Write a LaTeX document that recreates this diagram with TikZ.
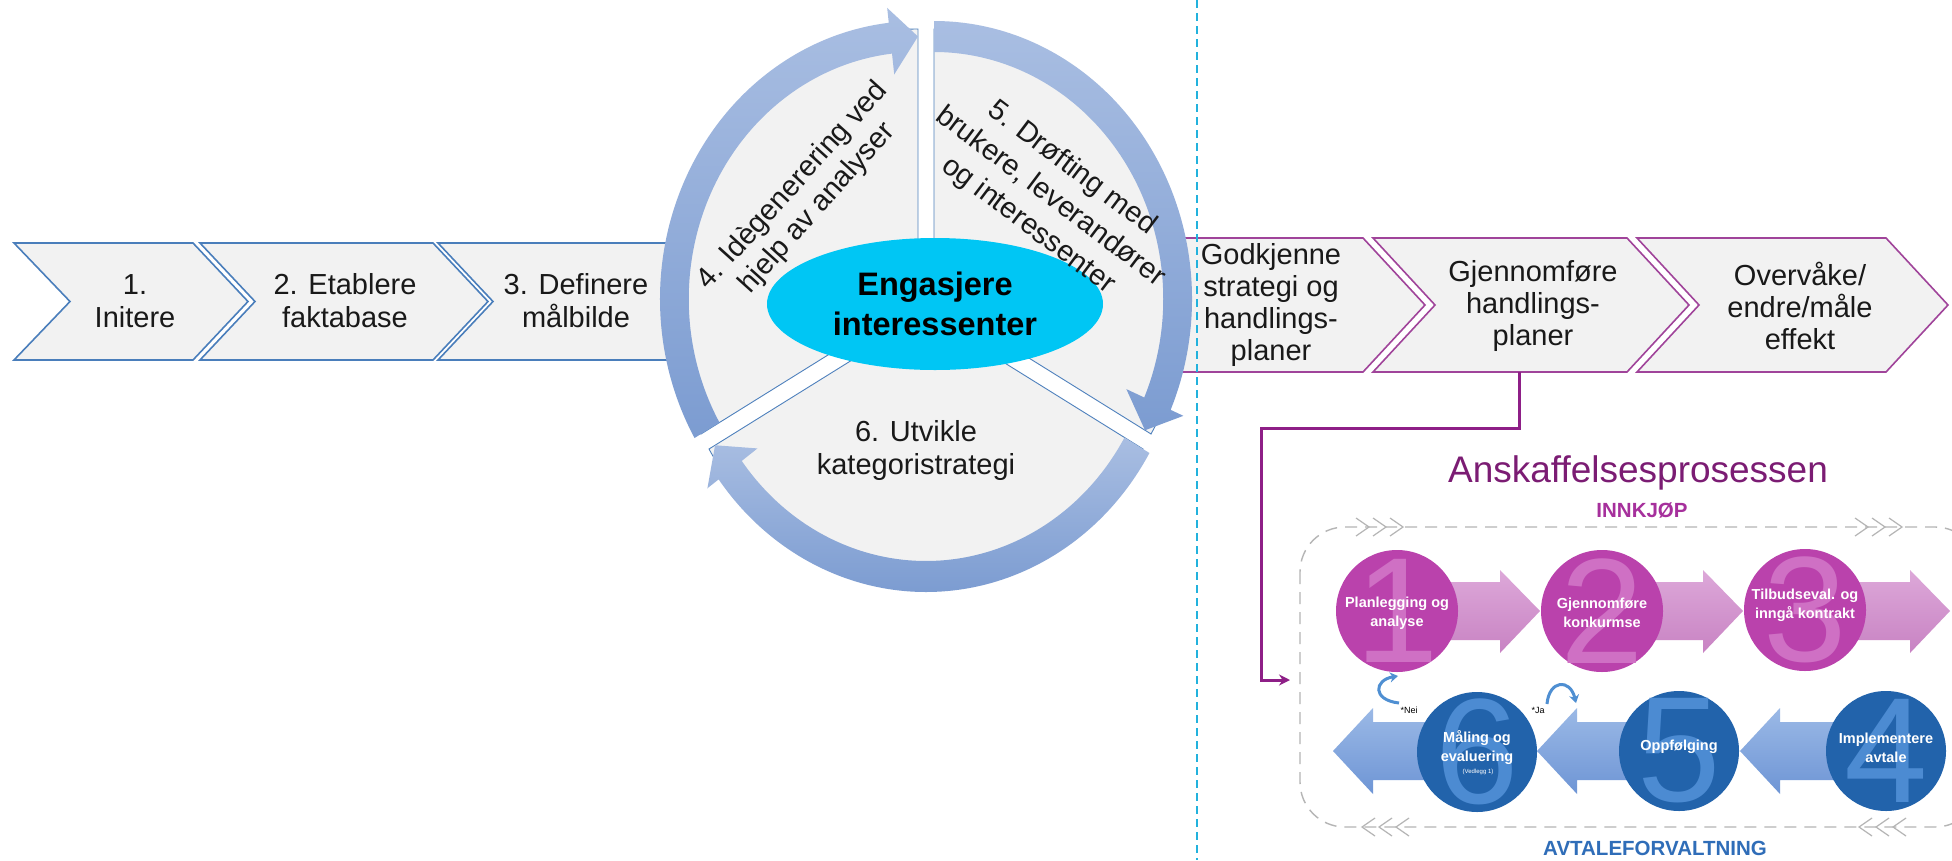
\documentclass[tikz,border=0pt]{standalone}
\usepackage{fontspec}
\setmainfont{Liberation Sans}
\usetikzlibrary{shapes.geometric, arrows.meta}

\definecolor{chevfill}{HTML}{F2F2F2}
\definecolor{chevblue}{HTML}{4A7EBB}
\definecolor{chevpurple}{HTML}{A0449A}
\definecolor{sectorline}{HTML}{4F81BD}
\definecolor{ringtop}{HTML}{A9BEE2}
\definecolor{ringbot}{HTML}{7C9CD1}
\definecolor{hubcyan}{HTML}{00C6F4}
\definecolor{guidecyan}{HTML}{22B2DD}
\definecolor{linkpurple}{HTML}{8E1F87}
\definecolor{titlepurple}{HTML}{7B1C73}
\definecolor{innpurple}{HTML}{A6309C}
\definecolor{avtblue}{HTML}{2F6DB8}
\definecolor{framegray}{HTML}{B5B5B5}
\definecolor{magcircle}{HTML}{BA42AC}
\definecolor{magdigit}{HTML}{CF70C4}
\definecolor{magtop}{HTML}{DDA8D9}
\definecolor{magbot}{HTML}{C883C3}
\definecolor{bluecircle}{HTML}{2263AB}
\definecolor{bluedigit}{HTML}{4C8BD2}
\definecolor{bluetop}{HTML}{9BB9E6}
\definecolor{bluebot}{HTML}{6E95D5}
\definecolor{hookblue}{HTML}{4F8FD2}

\tikzset{
  chevL/.style={draw=chevblue, fill=chevfill, line width=1.6pt, line join=miter},
  chevR/.style={draw=chevpurple, fill=chevfill, line width=1.6pt, line join=miter},
  steptext/.style={align=center, inner sep=0pt, text=black!90, font=\fontsize{29}{33}\selectfont},
  sector/.style={draw=sectorline, fill=chevfill, line width=0.9pt},
  ring/.style={top color=ringtop, bottom color=ringbot},
  hub/.style={ellipse, fill=hubcyan, minimum width=336pt, minimum height=132pt, inner sep=0pt,
    align=center, font=\bfseries\fontsize{32.5}{40}\selectfont},
  guide/.style={draw=guidecyan, line width=1.5pt, dash pattern=on 8pt off 5pt},
  link/.style={draw=linkpurple, line width=3pt, -{Stealth[length=11pt, width=11pt]}},
  frame/.style={draw=framegray, line width=1.4pt, dash pattern=on 12pt off 8pt},
  flowmark/.style={draw=framegray, line width=1.2pt},
  magarrow/.style={top color=magtop, bottom color=magbot},
  bluearrow/.style={top color=bluetop, bottom color=bluebot},
  magcirc/.style={circle, fill=magcircle, minimum size=122pt, inner sep=0pt},
  bluecirc/.style={circle, fill=bluecircle, minimum size=120pt, inner sep=0pt},
  bignum/.style={inner sep=0pt, font=\fontsize{150}{150}\selectfont},
  circtext/.style={align=center, inner sep=0pt, text=white, font=\bfseries\fontsize{14.5}{19}\selectfont},
  hook/.style={draw=hookblue, line width=3pt, -{Stealth[length=8pt, width=10pt]}},
  tinytext/.style={inner sep=0pt, font=\fontsize{9}{10}\selectfont},
}

\begin{document}
\begin{tikzpicture}[x=1pt, y=-1pt]
    \clip (0,0) rectangle (1952,860);
    \fill[white] (0,0) rectangle (1952,860);

    % category steps 1-3
    \draw[chevL] (14,243) -- (193,243) -- (248,301.5) -- (193,360) -- (14,360) -- (70,301.5) -- cycle;
    \draw[chevL] (200,243) -- (433,243) -- (488,301.5) -- (433,360) -- (200,360) -- (255,301.5) -- cycle;
    \draw[chevL] (438,243) -- (720,243) -- (720,360) -- (438,360) -- (493,301.5) -- cycle;
    \node[steptext] (initere) at (135,301) {1.\\Initere};
    \node[steptext] (faktabase) at (345,301) {2. Etablere\\faktabase};
    \node[steptext] (malbilde) at (576,301) {3. Definere\\målbilde};

    % steps after the cycle
    \draw[chevR] (1150,238) -- (1363,238) -- (1425,305) -- (1363,372) -- (1150,372) -- cycle;
    \draw[chevR] (1373,238) -- (1627,238) -- (1689,305) -- (1627,372) -- (1373,372) -- (1435,305) -- cycle;
    \draw[chevR] (1637,238) -- (1886,238) -- (1948,305) -- (1886,372) -- (1637,372) -- (1699,305) -- cycle;

    % the cycle 4-5-6
    \begin{scope}[shift={(926,304)}, xscale=0.928]
        \foreach \s [evaluate=\s as \e using \s+120, evaluate=\s as \m using \s+60] in {150,270,30}{
            \filldraw[sector] (\m:10) -- ++(\s:270) arc[start angle=\s, end angle=\e, radius=270] -- cycle;
        }
        \foreach \s [evaluate=\s as \e using \s+120, evaluate=\s as \h using \s+113.5, evaluate=\s as \m using \s+60] in {150,270,30}{
            \begin{scope}[shift={(\m:10)}]
                \shade[ring] (\s:278) arc[start angle=\s, end angle=\h, radius=278] -- (\h:293) -- (\e:262.5)
                    -- (\h:226) -- (\h:247) arc[start angle=\h, end angle=\s, radius=247] -- cycle;
            \end{scope}
        }
    \end{scope}
    \node[hub] (hub) at (935,304) {Engasjere\\interessenter};
    \node[steptext, rotate=48] (idegen) at (805,197) {4. Idègenerering ved\\hjelp av analyser};
    \node[steptext, rotate=-37, font=\fontsize{29}{36}\selectfont] (drofting) at (1050,197) {5. Drøfting med\\brukere, leverandører\\og interessenter};
    \node[steptext] (utvikle) at (916,450) {6. Utvikle\\kategoristrategi};

    \node[steptext, font=\fontsize{29}{32}\selectfont] (godkjenne) at (1271,305) {Godkjenne\\strategi og\\handlings-\\planer};
    \node[steptext, font=\fontsize{29}{32}\selectfont] (gjennomfore) at (1533,306) {Gjennomføre\\handlings-\\planer};
    \node[steptext, font=\fontsize{29}{32}\selectfont] (overvake) at (1800,306) {Overvåke/\\endre/måle\\effekt};

    \draw[guide] (1197,0) -- (1197,860);

    % procurement process
    \coordinate (gjbot) at (1519,372);
    \coordinate (bend) at (1261,428);
    \coordinate (inn) at (1290,680);
    \draw[link] (gjbot) |- (bend) |- (inn);

    \node[text=titlepurple, font=\fontsize{37}{40}\selectfont] (title) at (1638,473) {Anskaffelsesprosessen};
    \node[text=innpurple, font=\bfseries\fontsize{20.5}{24}\selectfont] (innkjop) at (1642,510) {INNKJØP};
    \node[text=avtblue, font=\bfseries\fontsize{20.5}{24}\selectfont] (avtale) at (1655,848) {AVTALEFORVALTNING};

    \draw[frame, rounded corners=45pt] (1300,527) rectangle (1980,827);
    \foreach \x in {1356,1373,1390,1855,1872,1889}
        \draw[flowmark] (\x,518) -- (\x+13,527) -- (\x,536);
    \foreach \x in {1375,1392,1409,1872,1889,1906}
        \draw[flowmark] (\x,818) -- (\x-13,827) -- (\x,836);

    \foreach \a/\t in {1397/1540, 1602/1743, 1805/1950}
        \shade[magarrow] (\a,582) -- (\t-40,582) -- (\t-40,570) -- (\t,611) -- (\t-40,653) -- (\t-40,640) -- (\a,640) -- cycle;
    \foreach \a/\t in {1886/1740, 1679/1537, 1477/1333}
        \shade[bluearrow] (\a,722) -- (\t+40,722) -- (\t+40,708) -- (\t,751) -- (\t+40,794) -- (\t+40,780) -- (\a,780) -- cycle;

    \node[magcirc] (p1) at (1397,611) {};
    \node[magcirc] (p2) at (1602,611) {};
    \node[magcirc] (p3) at (1805,610) {};
    \node[bluecirc] (p4) at (1886,751) {};
    \node[bluecirc] (p5) at (1679,751) {};
    \node[bluecirc] (p6) at (1477,752) {};
    \node[bignum, text=magdigit] at (p1) {1};
    \node[bignum, text=magdigit] at (p2) {2};
    \node[bignum, text=magdigit] at (p3) {3};
    \node[bignum, text=bluedigit] at (p4) {4};
    \node[bignum, text=bluedigit] at (p5) {5};
    \node[bignum, text=bluedigit] at (p6) {6};
    \node[circtext] (t1) at (1397,613) {Planlegging og\\analyse};
    \node[circtext] (t2) at (1602,613) {Gjennomføre\\konkurmse};
    \node[circtext] (t3) at (1805,605) {Tilbudseval. og\\inngå kontrakt};
    \node[circtext] (t4) at (1886,748) {Implementere\\avtale};
    \node[circtext] (t5) at (1679,747) {Oppfølging};
    \node[circtext] (t6) at (1477,748) {Måling og\\evaluering};
    \node[tinytext, text=white, font=\fontsize{6}{7}\selectfont] (vedlegg) at (1478,772) {(Vedlegg 1)};

    \coordinate (neiA) at (1399,703);
    \coordinate (neiB) at (1398,676);
    \coordinate (jaA) at (1547,704);
    \coordinate (jaB) at (1576,703);
    \draw[hook] (neiA) .. controls (1372,700) and (1374,680) .. (neiB);
    \draw[hook] (jaA) .. controls (1549,680) and (1570,678) .. (jaB);
    \node[tinytext] (nei) at (1409,710) {*Nei};
    \node[tinytext] (ja) at (1538,710) {*Ja};
\end{tikzpicture}
\end{document}
